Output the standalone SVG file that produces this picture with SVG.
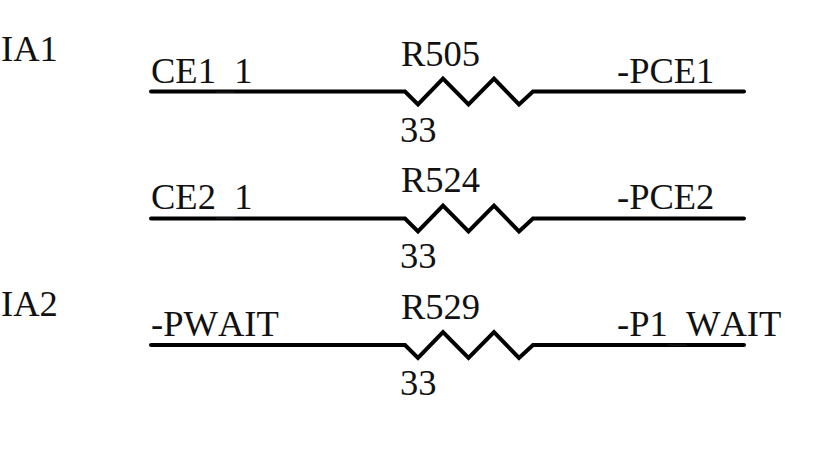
<svg xmlns="http://www.w3.org/2000/svg" width="826" height="450" viewBox="0 0 826 450">
<style>
text{font-family:"Liberation Serif","Times New Roman",serif;font-size:36.5px;fill:#111;font-kerning:none}
.w{fill:none;stroke:#000;stroke-width:4;stroke-linejoin:miter;stroke-linecap:round}
</style>
<defs><path id="r" class="w" d="M151 0H405L418 13 443 -13 468.500 13 494 -13 519 13 533 0H744"/></defs>
<rect width="826" height="450" fill="#fff"/>
<g id="connectors">
<use href="#r" y="91.500"/>
<use href="#r" y="218.500"/>
<use href="#r" y="345"/>
</g>
<g id="labels">
<text x="1" y="60.500">IA1</text>
<text x="1" y="315.500">IA2</text>
</g>
<g id="R505"><text x="401" y="66">R505</text><text x="400" y="142">33</text><text x="151" y="83">CE1<tspan dy="5">_</tspan><tspan dy="-5">1</tspan></text><text x="617" y="83">-PCE1</text></g>
<g id="R524"><text x="401" y="192">R524</text><text x="400" y="268">33</text><text x="151" y="209">CE2<tspan dy="5">_</tspan><tspan dy="-5">1</tspan></text><text x="617" y="209">-PCE2</text></g>
<g id="R529"><text x="401" y="319">R529</text><text x="400" y="395">33</text><text x="151" y="336">-PWAIT</text><text x="617" y="336">-P1<tspan dy="5">_</tspan><tspan dy="-5">WAIT</tspan></text></g>
</svg>
